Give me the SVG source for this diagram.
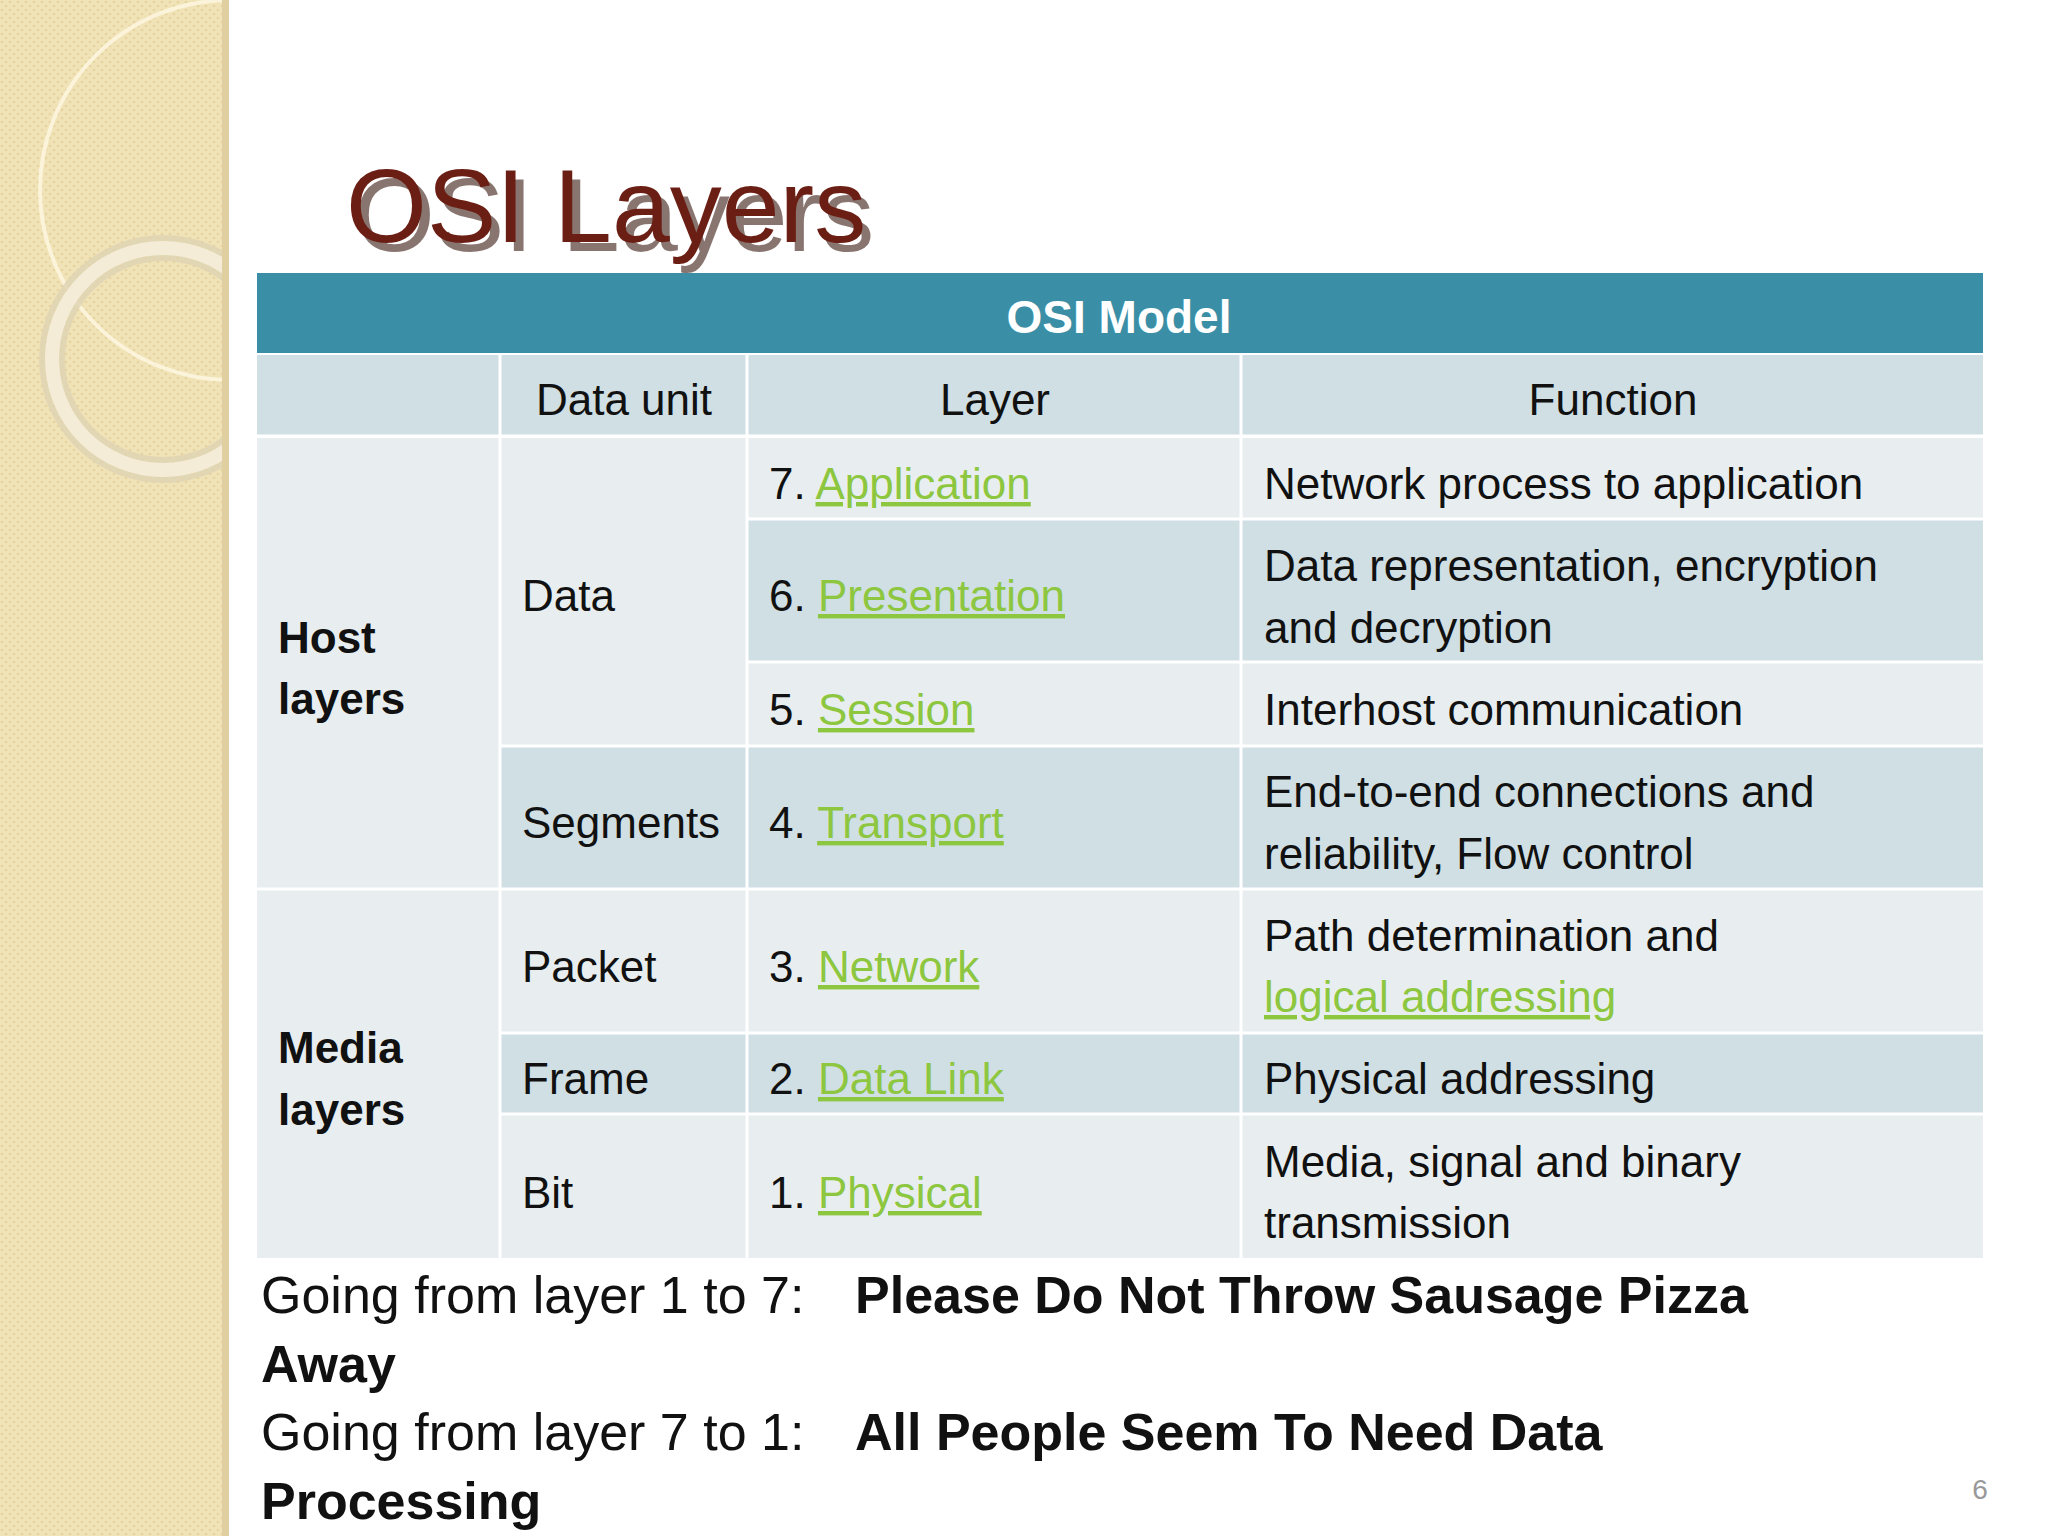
<svg xmlns="http://www.w3.org/2000/svg" width="2048" height="1536" viewBox="0 0 2048 1536">
<defs>
<pattern id="dots" width="8" height="8" patternUnits="userSpaceOnUse"><rect width="8" height="8" fill="#f1e3b8"/><circle cx="2" cy="2" r="1.3" fill="#e6d39d"/><circle cx="6" cy="6" r="1.3" fill="#e6d39d"/></pattern>
<clipPath id="strip"><rect x="0" y="0" width="229" height="1536"/></clipPath>
</defs>
<style>
text{font-family:"Liberation Sans",Arial,sans-serif;font-size:44px;fill:#111}
.b{font-weight:bold}
.c{text-anchor:middle}
.l{fill:#8dc63f;text-decoration:underline}
.lt{fill:#e8eef0}
.dk{fill:#d0dfe4}
.grid{stroke:#ffffff;stroke-width:3;fill:none}
.bt{font-size:52px}
</style>
<rect width="2048" height="1536" fill="#ffffff"/>
<g id="strip-deco">
<rect x="0" y="0" width="229" height="1536" fill="url(#dots)"/>
<g clip-path="url(#strip)" fill="none">
<circle cx="230" cy="190" r="190" stroke="#fbf3da" stroke-width="4"/>
<circle cx="163" cy="359" r="111" stroke="#ded3b3" stroke-width="26" opacity="0.8"/>
<circle cx="163" cy="359" r="111" stroke="#f4ecd6" stroke-width="14"/>
</g>
<rect x="222" y="0" width="7" height="1536" fill="#e0cfa0"/>
</g>
<g id="title">
<text x="350" y="247" style="font-size:104px;fill:#3a1a12" opacity="0.6" dx="4" dy="4">OSI Layers</text>
<text x="346" y="242" style="font-size:104px;fill:#6b1f14">OSI Layers</text>
</g>
<g id="table">
<rect x="257" y="273" width="1726" height="80" fill="#3a8fa7"/>
<text x="1119" y="333" class="b c" style="fill:#fff;font-size:46px">OSI Model</text>
<rect x="257" y="355" width="1726" height="80" class="dk"/>
<rect x="257" y="438" width="1726" height="820" class="lt"/>
<rect x="747" y="519" width="1236" height="143" class="dk"/>
<rect x="500" y="746" width="1483" height="143" class="dk"/>
<rect x="500" y="1033" width="1483" height="81" class="dk"/>
<path class="grid" d="M500 355V1258M747 355V1258M1241 355V1258M257 436H1983M747 519H1983M747 662H1983M500 746H1983M257 889H1983M500 1033H1983M500 1114H1983"/>
<text x="624" y="415" class="c">Data unit</text>
<text x="995" y="415" class="c">Layer</text>
<text x="1613" y="415" class="c">Function</text>
<text x="278" y="653" class="b">Host</text>
<text x="278" y="714" class="b">layers</text>
<text x="278" y="1063" class="b">Media</text>
<text x="278" y="1125" class="b">layers</text>
<text x="522" y="611">Data</text>
<text x="522" y="838">Segments</text>
<text x="522" y="982">Packet</text>
<text x="522" y="1094">Frame</text>
<text x="522" y="1208">Bit</text>
<text x="769" y="499">7. <tspan class="l">Application</tspan></text>
<text x="769" y="611">6. <tspan class="l">Presentation</tspan></text>
<text x="769" y="725">5. <tspan class="l">Session</tspan></text>
<text x="769" y="838">4. <tspan class="l">Transport</tspan></text>
<text x="769" y="982">3. <tspan class="l">Network</tspan></text>
<text x="769" y="1094">2. <tspan class="l">Data Link</tspan></text>
<text x="769" y="1208">1. <tspan class="l">Physical</tspan></text>
<text x="1264" y="499">Network process to application</text>
<text x="1264" y="581">Data representation, encryption</text>
<text x="1264" y="643">and decryption</text>
<text x="1264" y="725">Interhost communication</text>
<text x="1264" y="807">End-to-end connections and</text>
<text x="1264" y="869">reliability, Flow control</text>
<text x="1264" y="951">Path determination and</text>
<text x="1264" y="1012" class="l">logical addressing</text>
<text x="1264" y="1094">Physical addressing</text>
<text x="1264" y="1177">Media, signal and binary</text>
<text x="1264" y="1238">transmission</text>
</g>
<g id="mnemonics">
<text x="261" y="1313" class="bt">Going from layer 1 to 7:</text>
<text x="855" y="1313" class="bt b">Please Do Not Throw Sausage Pizza</text>
<text x="261" y="1382" class="bt b">Away</text>
<text x="261" y="1450" class="bt">Going from layer 7 to 1:</text>
<text x="855" y="1450" class="bt b">All People Seem To Need Data</text>
<text x="261" y="1519" class="bt b">Processing</text>
<text x="1980" y="1499" class="c" style="font-size:28px;fill:#999">6</text>
</g>
</svg>
